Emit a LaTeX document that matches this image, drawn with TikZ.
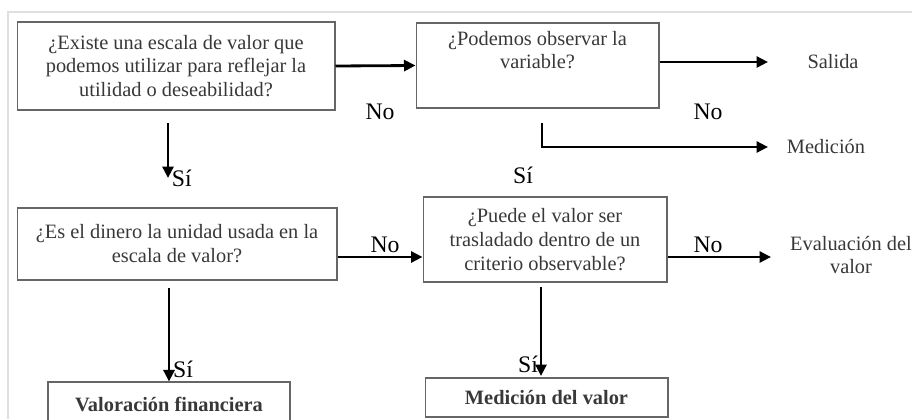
\documentclass[tikz,border=0pt]{standalone}
\usepackage{fontspec}
\setmainfont{Liberation Serif}
\usetikzlibrary{arrows.meta,positioning}
\begin{document}
\begin{tikzpicture}[x=0.02cm,y=-0.02cm,
    box/.style = {draw=black!60, line width=0.6pt, align=center, text=black!78,
      font=\fontsize{11.6}{13.6}\selectfont, inner sep=0pt},
    lbl/.style = {font=\fontsize{13.5}{15}\selectfont, inner sep=1pt},
    salida/.style = {align=center, text=black!78, font=\fontsize{11.6}{13.6}\selectfont},
    arr/.style = {line width=1.6pt, -{Triangle[length=2.3mm,width=2.2mm]}}
]
        \useasboundingbox (0,0) rectangle (912,419);
        \clip (0,0) rectangle (912,419);
        \draw[black!12, line width=1pt] (8,419) -- (8,12) -- (912,12);
        % preguntas
        \node[box, minimum width=6.36cm, minimum height=1.76cm] (q1) at (176,66)
            {¿Existe una escala de valor que\\podemos utilizar para reflejar la\\utilidad o deseabilidad?};
        \node[box, minimum width=4.86cm, minimum height=1.7cm] (q2) at (537.5,65.5)
            {¿Podemos observar la\\variable?\\\strut};
        \node[box, minimum width=6.4cm, minimum height=1.44cm] (q3) at (177,244)
            {¿Es el dinero la unidad usada en la\\escala de valor?};
        \node[box, minimum width=4.88cm, minimum height=1.7cm] (q4) at (545,239.5)
            {¿Puede el valor ser\\trasladado dentro de un\\criterio observable?};
        % resultados
        \node[box, minimum width=4.84cm, minimum height=0.88cm] (r1) at (169,404)
            {\textbf{Valoración financiera}};
        \node[box, minimum width=4.86cm, minimum height=0.78cm] (r2) at (546.5,397.5)
            {\textbf{Medición del valor}};
        \node[salida] (sal) at (833,62) {Salida};
        \node[salida] (medicion) at (826,147) {Medición};
        \node[salida] (evaluacion) at (851,255) {Evaluación del\\valor};
        % extremos libres
        \coordinate (s1) at (768,62);
        \coordinate (m0) at (542,123);
        \coordinate (m1) at (768,147);
        \coordinate (e1) at (771,257);
        \coordinate (a0) at (168,123);
        \coordinate (a1) at (168,178);
        \coordinate (b0) at (541,287);
        \coordinate (b1) at (541,376);
        % conectores
        \draw[arr] (q1.east) -- (q2.west);
        \draw[arr] (q2.east |- s1) -- (s1);
        \draw[arr] (m0) |- (m1);
        \draw[arr] (a0) -- (a1);
        \draw[arr] (q3.east |- e1) -- (q4.west |- e1);
        \draw[arr] (q4.east |- e1) -- (e1);
        \draw[arr] ([yshift=-0.14cm]q3.south -| r1.north) -- (r1.north);
        \draw[arr] (b0) -- (b1);
        % respuestas
        \node[lbl] at (380,112) {No};
        \node[lbl] at (708,112) {No};
        \node[lbl] at (523,175) {Sí};
        \node[lbl, right=1pt of a1] {Sí};
        \node[lbl] at (385,245) {No};
        \node[lbl] at (708,245) {No};
        \node[lbl] at (183,369) {Sí};
        \node[lbl] at (528,364) {Sí};
    \end{tikzpicture}
\end{document}
